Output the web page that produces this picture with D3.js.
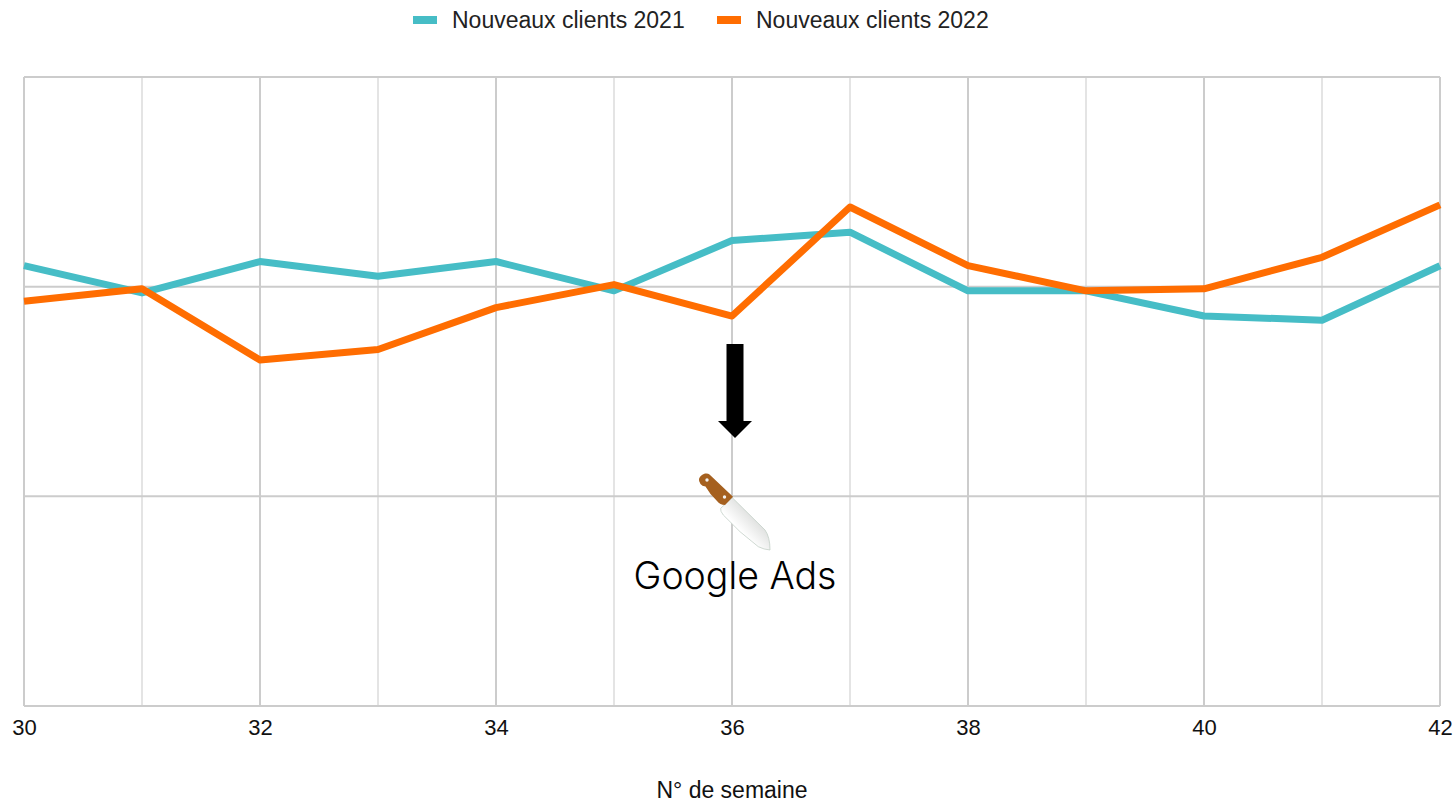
<!DOCTYPE html>
<html>
<head>
<meta charset="utf-8">
<script src="https://cdn.jsdelivr.net/npm/d3@7"></script>
<style>
  html, body { margin: 0; padding: 0; background: #fff; overflow: hidden; }
  svg { display: block; }
</style>
</head>
<body>
<div id="chart"></div>
<script>
const weeks = [30, 31, 32, 33, 34, 35, 36, 37, 38, 39, 40, 41, 42];
const clients2021 = [210, 197, 212, 205, 212, 198, 222, 226, 198, 198, 186, 184, 210];
const clients2022 = [193, 199, 165, 170, 190, 201, 186, 238, 210, 198, 199, 214, 239];
const majorWeeks = [30, 32, 34, 36, 38, 40, 42];
const minorWeeks = [31, 33, 35, 37, 39, 41];
const yLines = [0, 100, 200, 300];
const seriesNames = ['Nouveaux clients 2021', 'Nouveaux clients 2022'];
const seriesColors = ['#46bdc6', '#ff6d01'];

const width = 1456;
const height = 801;
const margin = { top: 77, left: 24, right: 16, bottom: 95 };

const svg = d3
  .select('#chart')
  .append('svg')
  .attr('width', width)
  .attr('height', height)
  .style('font-family', '"Liberation Sans", Arial, sans-serif');

const x = d3.scaleLinear().domain([30, 42]).range([margin.left, width - margin.right]);
const y = d3.scaleLinear().domain([0, 300]).range([height - margin.bottom, margin.top]);

// Grid
svg
  .selectAll('.minor')
  .data(minorWeeks)
  .enter()
  .append('line')
  .attr('class', 'minor')
  .attr('x1', (d) => x(d))
  .attr('x2', (d) => x(d))
  .attr('y1', y(300))
  .attr('y2', y(0))
  .attr('stroke', '#e4e4e4')
  .attr('stroke-width', 2);

svg
  .selectAll('.major')
  .data(majorWeeks)
  .enter()
  .append('line')
  .attr('class', 'major')
  .attr('x1', (d) => x(d))
  .attr('x2', (d) => x(d))
  .attr('y1', y(300))
  .attr('y2', y(0))
  .attr('stroke', '#cccccc')
  .attr('stroke-width', 2);

svg
  .selectAll('.hline')
  .data(yLines)
  .enter()
  .append('line')
  .attr('class', 'hline')
  .attr('x1', x(30))
  .attr('x2', x(42))
  .attr('y1', (d) => y(d))
  .attr('y2', (d) => y(d))
  .attr('stroke', '#cccccc')
  .attr('stroke-width', 2);

// Axis labels only, the grid draws the lines
const xAxis = svg
  .append('g')
  .attr('transform', `translate(0,${y(0)})`)
  .call(d3.axisBottom(x).tickValues(majorWeeks).tickSize(0).tickPadding(13));
xAxis.select('.domain').remove();
xAxis
  .selectAll('text')
  .attr('font-family', '"Liberation Sans", Arial, sans-serif')
  .attr('font-size', 22)
  .attr('fill', '#111');

svg
  .append('text')
  .attr('x', 732)
  .attr('y', 798)
  .attr('text-anchor', 'middle')
  .attr('font-size', 23)
  .attr('fill', '#111')
  .text('N° de semaine');

// Lines
const line = d3
  .line()
  .x((d, i) => x(weeks[i]))
  .y((d) => y(d));

[clients2021, clients2022].forEach((values, i) => {
  svg
    .append('path')
    .attr('d', line(values))
    .attr('fill', 'none')
    .attr('stroke', seriesColors[i])
    .attr('stroke-width', 7)
    .attr('stroke-linejoin', 'round');
});

// Legend
const legendX = [413, 717];
seriesNames.forEach((name, i) => {
  svg
    .append('rect')
    .attr('x', legendX[i])
    .attr('y', 16)
    .attr('width', 24)
    .attr('height', 8)
    .attr('fill', seriesColors[i]);
  svg
    .append('text')
    .attr('x', legendX[i] + 39)
    .attr('y', 28)
    .attr('font-size', 23)
    .attr('fill', '#222')
    .text(name);
});

// Annotation: arrow
svg
  .append('path')
  .attr('d', 'M726.5,344 H743.5 V421 H752 L735,438 L718,421 H726.5 Z')
  .attr('fill', '#000');

// Annotation: knife
const bladeGradient = svg
  .append('defs')
  .append('linearGradient')
  .attr('id', 'blade')
  .attr('x1', '0.2')
  .attr('y1', '0.8')
  .attr('x2', '0.8')
  .attr('y2', '0.2');
bladeGradient.append('stop').attr('offset', '0.3').attr('stop-color', '#ffffff');
bladeGradient.append('stop').attr('offset', '1').attr('stop-color', '#cfd1cf');

const knife = svg.append('g');
knife
  .append('path')
  .attr('d', 'M732.3,497.7 L765,530 Q770,537 770,550 Q764,549.5 758.3,546.7 L740,531.7 L723.3,515 Q720,511 720.7,508.3 L725,504.3 Z')
  .attr('fill', 'url(#blade)')
  .attr('stroke', '#c3cfc6')
  .attr('stroke-width', 0.8);
knife
  .append('path')
  .attr('d', 'M699,479 Q700,475 705,473.5 Q708,473 709.5,474.5 L733,496.7 L725,505 Q720,505 717,501 L710.5,494 L705.5,486.5 Q702,486 700.5,484 Q698.5,481 699,479 Z')
  .attr('fill', '#a5601f');
knife.append('circle').attr('cx', 707).attr('cy', 480).attr('r', 1.7).attr('fill', '#f2f2f2');
knife.append('circle').attr('cx', 724.5).attr('cy', 497).attr('r', 1.7).attr('fill', '#f2f2f2');

svg
  .append('text')
  .attr('x', 735)
  .attr('y', 589)
  .attr('text-anchor', 'middle')
  .attr('font-family', 'Inter, sans-serif')
  .attr('font-size', 37.5)
  .attr('font-weight', 300)
  .attr('fill', '#000')
  .text('Google Ads');
</script>
</body>
</html>
